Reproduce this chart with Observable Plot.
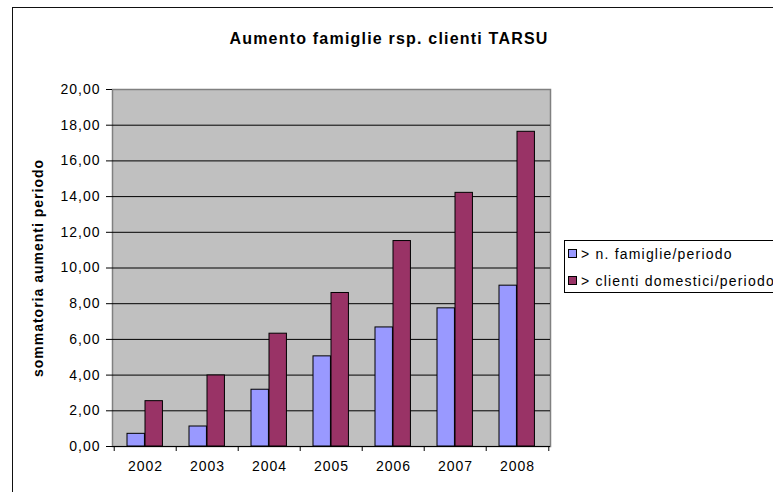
<!DOCTYPE html>
<html>
<head>
<meta charset="utf-8">
<script src="https://cdn.jsdelivr.net/npm/d3@7"></script>
<script src="https://cdn.jsdelivr.net/npm/@observablehq/plot@0.6"></script>
<style>
  html, body { margin: 0; padding: 0; background: #fff; overflow: hidden; }
  #wrap { position: relative; width: 773px; height: 492px; overflow: hidden; font-family: "Liberation Sans", Arial, sans-serif; }
  #border { position: absolute; left: 12px; top: 7px; width: 800px; height: 520px; border: 1.5px solid #111; box-sizing: border-box; pointer-events: none; }
  #title { position: absolute; left: 0; width: 778px; top: 30px; text-align: center; font-weight: bold; font-size: 16px; letter-spacing: 1.2px; color: #000; }
  #legend { position: absolute; left: 564px; top: 240px; width: 260px; height: 53px; border: 1px solid #000; box-sizing: border-box; background: #fff; font-size: 14px; letter-spacing: 1.2px; }
  .item { position: absolute; left: 3px; height: 16px; line-height: 16px; white-space: nowrap; }
  .sw { display: inline-block; width: 7px; height: 7px; border: 1px solid #000; margin-right: 4px; vertical-align: 1px; }
  #chart { position: absolute; left: 0; top: 0; }
  #chart svg text { letter-spacing: 1px; }
</style>
</head>
<body>
<div id="wrap">
  <div id="chart"></div>
  <div id="title"></div>
  <div id="legend"></div>
  <div id="border"></div>
</div>
<script>
const years = ["2002", "2003", "2004", "2005", "2006", "2007", "2008"];
const famiglie = [0.71, 1.12, 3.18, 5.05, 6.67, 7.74, 9.01];
const clienti = [2.54, 3.98, 6.32, 8.60, 11.51, 14.21, 17.63];
const seriesNames = ["> n. famiglie/periodo", "> clienti domestici/periodo"];
const seriesColors = ["#9999FF", "#993366"];
const yTicks = [0, 2, 4, 6, 8, 10, 12, 14, 16, 18, 20];
const titleText = "Aumento famiglie rsp. clienti TARSU";
const yLabel = "sommatoria aumenti periodo";

const W = 773, H = 492;
const mL = 112, mR = 223, mT = 89, mB = 46;
const bw = (W - mL - mR) / years.length;

const famData = years.map((y, i) => ({year: y, value: famiglie[i]}));
const cliData = years.map((y, i) => ({year: y, value: clienti[i]}));

const fmt = d => d.toFixed(2).replace(".", ",");

const plot = Plot.plot({
  width: W,
  height: H,
  marginLeft: mL,
  marginRight: mR,
  marginTop: mT,
  marginBottom: mB,
  style: {fontFamily: "Liberation Sans, Arial, sans-serif", fontSize: "14px", color: "#000", background: "transparent"},
  x: {domain: years, padding: 0, axis: null},
  y: {domain: [0, 20], axis: null},
  marks: [
    Plot.frame({fill: "#C0C0C0", stroke: "#808080", strokeWidth: 1.5}),
    Plot.ruleY(yTicks.filter(d => d > 0 && d < 20), {stroke: "#000", strokeWidth: 1}),
    Plot.barY(famData, {x: "year", y: "value", fill: seriesColors[0], stroke: "#000", strokeWidth: 1, insetLeft: 13, insetRight: bw - 31}),
    Plot.barY(cliData, {x: "year", y: "value", fill: seriesColors[1], stroke: "#000", strokeWidth: 1, insetLeft: 31, insetRight: bw - 49}),
    Plot.ruleX([0], {frameAnchor: "left", stroke: "#000", strokeWidth: 1}),
    Plot.ruleY([0], {stroke: "#000", strokeWidth: 1}),
    Plot.axisY(yTicks, {label: null, tickSize: 6, tickPadding: 6, tickFormat: fmt, stroke: "#000", fill: "#000", fontSize: 14}),
    Plot.ruleX(years, {insetTop: H - mT - mB, insetBottom: -5, dx: -bw / 2, stroke: "#000"}),
    Plot.ruleX(years.slice(-1), {insetTop: H - mT - mB, insetBottom: -5, dx: bw / 2, stroke: "#000"}),
    Plot.axisX(years, {label: null, tickSize: 0, tickPadding: 15, fill: "#000", fontSize: 14}),
    Plot.text([yLabel], {frameAnchor: "left", textAnchor: "middle", rotate: -90, dx: -74, fontWeight: "bold", fontSize: 14, fill: "#000"})
  ]
});
document.getElementById("chart").appendChild(plot);

document.getElementById("title").textContent = titleText;
const leg = document.getElementById("legend");
seriesNames.forEach((name, i) => {
  const it = document.createElement("div");
  it.className = "item";
  it.style.top = (5 + i * 27) + "px";
  const sw = document.createElement("span");
  sw.className = "sw";
  sw.style.background = seriesColors[i];
  it.appendChild(sw);
  it.appendChild(document.createTextNode(name));
  leg.appendChild(it);
});
</script>
</body>
</html>
